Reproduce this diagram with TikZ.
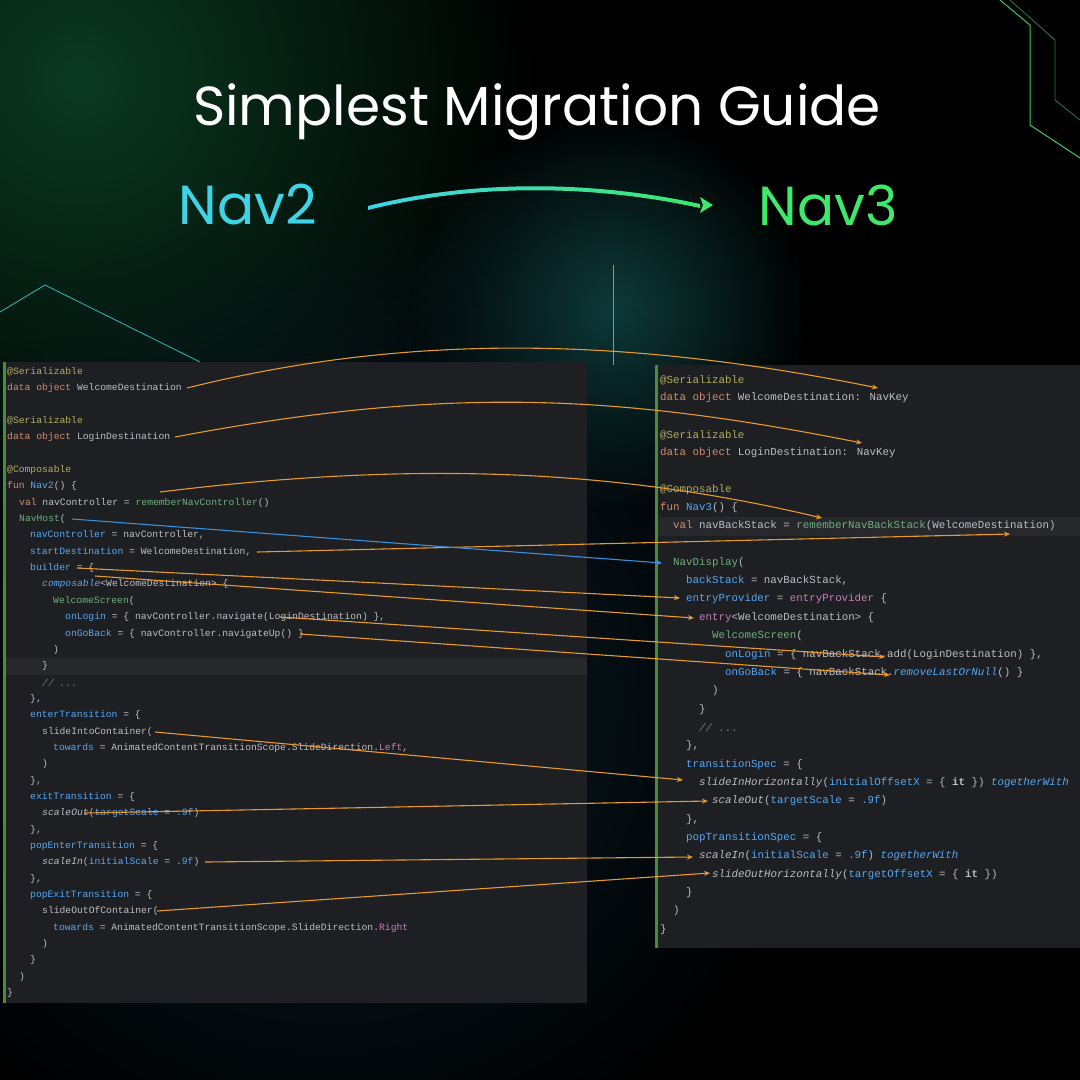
\documentclass[tikz,border=0pt]{standalone}
\usepackage{fontspec}
\setmainfont{Poppins}
\newfontfamily\mono{Liberation Mono}
\usetikzlibrary{fadings,arrows.meta}
\tikzfading[name=myglow, inner color=transparent!0, outer color=transparent!100]
\definecolor{bgpanel}{HTML}{1E1F22}
\definecolor{rowhl}{HTML}{26282C}
\definecolor{gbar}{HTML}{4E8A3E}
\definecolor{glowA}{HTML}{0B3A22}
\definecolor{glowB}{HTML}{0E3B3A}
\definecolor{glowC}{HTML}{0A1F2A}
\definecolor{decoG}{HTML}{3CCB5A}
\definecolor{decoG2}{HTML}{2A7A4A}
\definecolor{decoC}{HTML}{2FB7C6}
\definecolor{cid}{HTML}{BCBEC4}
\definecolor{ckw}{HTML}{CF8E6D}
\definecolor{can}{HTML}{B3AE60}
\definecolor{cfn}{HTML}{6FAF7E}
\definecolor{cpa}{HTML}{56A8F5}
\definecolor{cpu}{HTML}{C77DBB}
\definecolor{ccm}{HTML}{7A7E85}
\definecolor{carr}{HTML}{E89A2C}
\definecolor{cblue}{HTML}{3A8FD8}
\definecolor{ncyan}{HTML}{3FD3E6}
\definecolor{ngreen}{HTML}{3DE86A}
\newcommand\kw[1]{\textcolor{ckw}{#1}}
\newcommand\an[1]{\textcolor{can}{#1}}
\newcommand\fnn[1]{\textcolor{cfn}{#1}}
\newcommand\pa[1]{\textcolor{cpa}{#1}}
\newcommand\pu[1]{\textcolor{cpu}{#1}}
\newcommand\itp[1]{\textcolor{cpa}{\itshape #1}}
\newcommand\cm[1]{\textcolor{ccm}{\itshape #1}}
\begin{document}
\begin{tikzpicture}[x=1pt,y=-1pt,
  cl/.style={anchor=west,inner sep=0pt,text=cid,font=\mono\fontsize{9.7}{10}\selectfont},
  cr/.style={anchor=west,inner sep=0pt,text=cid,font=\mono\fontsize{10.8}{11}\selectfont},
  oa/.style={draw=carr,line width=1.1pt,-{Stealth[length=6pt,width=5pt]}},
  ba/.style={draw=cblue,line width=1.1pt,-{Stealth[length=6pt,width=5pt]}}]
\useasboundingbox (0,0) rectangle (1080,1080);
\fill[black] (0,0) rectangle (1080,1080);
\fill[glowA,path fading=myglow] (80,80) circle (460);
\fill[glowB,path fading=myglow] (610,310) circle (200);
\fill[glowC,path fading=myglow] (330,700) circle (500);
% decorations
\draw[decoG,line width=1pt] (1000,0) -- (1030,25) -- (1030,125) -- (1080,158);
\draw[decoG2,line width=0.8pt] (1010,0) -- (1055,40) -- (1055,100) -- (1080,120);
\draw[decoC,line width=0.8pt] (0,312) -- (45,285) -- (200,362);
\draw[decoC,line width=0.8pt] (613,265) -- (613,365);
% title
\node (title) [text=white,font=\fontsize{55}{60}\selectfont] at (537,112) {Simplest Migration Guide};
\node (nav2) [text=ncyan,font=\fontsize{55}{60}\selectfont] at (248,205) {Nav2};
\node (nav3) [text=ngreen,font=\fontsize{55}{60}\selectfont] at (828,205) {Nav3};
\shade[left color=ncyan,right color=ngreen] (368,206) .. controls (480,178) and (600,182) .. (700,204) -- (700,208) .. controls (600,186) and (480,182) .. (368,210) -- cycle;
\coordinate (ah) at (713,205);
\fill[ngreen] (ah) -- (700,197) -- (703,205) -- (700,213) -- cycle;
% panels
\fill[bgpanel] (3,362) rectangle (587,1003);
\fill[rowhl] (3,658) rectangle (587,675);
\fill[gbar] (3,362) rectangle (6,1003);
\fill[bgpanel] (655,365) rectangle (1080,948);
\fill[rowhl] (655,517) rectangle (1080,536);
\fill[gbar] (655,365) rectangle (658,948);
% left code
\node[cl] (l1) at (7,372) {\an{@Serializable}};
\node[cl] (l2) at (7,388) {\kw{data object} WelcomeDestination};
\node[cl] (l4) at (7,421) {\an{@Serializable}};
\node[cl] (l5) at (7,437) {\kw{data object} LoginDestination};
\node[cl] (l7) at (7,470) {\an{@Composable}};
\node[cl] (l8) at (7,486) {\kw{fun} \pa{Nav2}() \{};
\node[cl] (l9) at (19,503) {\kw{val} navController = \fnn{rememberNavController}()};
\node[cl] (l10) at (19,519) {\fnn{NavHost}(};
\node[cl] (l11) at (30,535) {\pa{navController} = navController,};
\node[cl] (l12) at (30,552) {\pa{startDestination} = WelcomeDestination,};
\node[cl] (l13) at (30,568) {\pa{builder} = \{};
\node[cl] (l14) at (42,584) {\itp{composable}<WelcomeDestination> \{};
\node[cl] (l15) at (53,601) {\fnn{WelcomeScreen}(};
\node[cl] (l16) at (65,617) {\pa{onLogin} = \{ navController.navigate(LoginDestination) \},};
\node[cl] (l17) at (65,634) {\pa{onGoBack} = \{ navController.navigateUp() \}};
\node[cl] (l18) at (53,650) {)};
\node[cl] (l19) at (42,666) {\}};
\node[cl] (l20) at (42,683) {\cm{// ...}};
\node[cl] (l21) at (30,699) {\},};
\node[cl] (l22) at (30,715) {\pa{enterTransition} = \{};
\node[cl] (l23) at (42,732) {slideIntoContainer(};
\node[cl] (l24) at (53,748) {\pa{towards} = AnimatedContentTransitionScope.SlideDirection.\pu{Left},};
\node[cl] (l25) at (42,764) {)};
\node[cl] (l26) at (30,781) {\},};
\node[cl] (l27) at (30,797) {\pa{exitTransition} = \{};
\node[cl] (l28) at (42,813) {\textit{scaleOut}(\pa{targetScale} = \pa{.9f})};
\node[cl] (l29) at (30,830) {\},};
\node[cl] (l30) at (30,846) {\pa{popEnterTransition} = \{};
\node[cl] (l31) at (42,862) {\textit{scaleIn}(\pa{initialScale} = \pa{.9f})};
\node[cl] (l32) at (30,879) {\},};
\node[cl] (l33) at (30,895) {\pa{popExitTransition} = \{};
\node[cl] (l34) at (42,911) {slideOutOfContainer(};
\node[cl] (l35) at (53,928) {\pa{towards} = AnimatedContentTransitionScope.SlideDirection.\pu{Right}};
\node[cl] (l36) at (42,944) {)};
\node[cl] (l37) at (30,960) {\}};
\node[cl] (l38) at (19,977) {)};
\node[cl] (l39) at (7,993) {\}};
% right code
\node[cr] (r1) at (660,380) {\an{@Serializable}};
\node[cr] (r2) at (660,398) {\kw{data object} WelcomeDestination: NavKey};
\node[cr] (r4) at (660,435) {\an{@Serializable}};
\node[cr] (r5) at (660,453) {\kw{data object} LoginDestination: NavKey};
\node[cr] (r7) at (660,490) {\an{@Composable}};
\node[cr] (r8) at (660,508) {\kw{fun} \pa{Nav3}() \{};
\node[cr] (r9) at (673,526) {\kw{val} navBackStack = \fnn{rememberNavBackStack}(WelcomeDestination)};
\node[cr] (r11) at (673,563) {\fnn{NavDisplay}(};
\node[cr] (r12) at (686,581) {\pa{backStack} = navBackStack,};
\node[cr] (r13) at (686,599) {\pa{entryProvider} = \pu{entryProvider} \{};
\node[cr] (r14) at (699,618) {\pu{entry}<WelcomeDestination> \{};
\node[cr] (r15) at (712,636) {\fnn{WelcomeScreen}(};
\node[cr] (r16) at (725,655) {\pa{onLogin} = \{ navBackStack.add(LoginDestination) \},};
\node[cr] (r17) at (725,673) {\pa{onGoBack} = \{ navBackStack.\itp{removeLastOrNull}() \}};
\node[cr] (r18) at (712,691) {)};
\node[cr] (r19) at (699,710) {\}};
\node[cr] (r20) at (699,728) {\cm{// ...}};
\node[cr] (r21) at (686,746) {\},};
\node[cr] (r22) at (686,765) {\pa{transitionSpec} = \{};
\node[cr] (r23) at (699,783) {\textit{slideInHorizontally}(\pa{initialOffsetX} = \{ \textbf{it} \}) \itp{togetherWith}};
\node[cr] (r24) at (712,801) {\textit{scaleOut}(\pa{targetScale} = \pa{.9f})};
\node[cr] (r25) at (686,820) {\},};
\node[cr] (r26) at (686,838) {\pa{popTransitionSpec} = \{};
\node[cr] (r27) at (699,856) {\textit{scaleIn}(\pa{initialScale} = \pa{.9f}) \itp{togetherWith}};
\node[cr] (r28) at (712,875) {\textit{slideOutHorizontally}(\pa{targetOffsetX} = \{ \textbf{it} \})};
\node[cr] (r29) at (686,893) {\}};
\node[cr] (r30) at (673,911) {)};
\node[cr] (r31) at (660,930) {\}};
% connector anchors
\coordinate (a1) at (187,388); \coordinate (b1) at (878,388);
\coordinate (a2) at (175,437); \coordinate (b2) at (862,443);
\coordinate (a3) at (160,492); \coordinate (b3) at (822,518);
\coordinate (a4) at (257,552); \coordinate (b4) at (1010,534);
\coordinate (a5) at (72,519);  \coordinate (b5) at (662,563);
\coordinate (a6) at (77,568);  \coordinate (b6) at (680,598);
\coordinate (a7) at (95,576);  \coordinate (b7) at (694,618);
\coordinate (a8) at (280,617); \coordinate (b8) at (885,657);
\coordinate (a9) at (300,634); \coordinate (b9) at (890,675);
\coordinate (a10) at (155,732); \coordinate (b10) at (683,780);
\coordinate (a11) at (85,813); \coordinate (b11) at (708,801);
\coordinate (a12) at (205,862); \coordinate (b12) at (693,857);
\coordinate (a13) at (157,911); \coordinate (b13) at (710,873);
\draw[oa] (a1) .. controls (420,330) and (640,340) .. (b1);
\draw[oa] (a2) .. controls (450,385) and (620,395) .. (b2);
\draw[oa] (a3) .. controls (420,460) and (620,470) .. (b3);
\draw[oa] (a4) -- (b4);
\draw[ba] (a5) -- (b5);
\draw[oa] (a6) -- (b6);
\draw[oa] (a7) -- (b7);
\draw[oa] (a8) -- (b8);
\draw[oa] (a9) -- (b9);
\draw[oa] (a10) -- (b10);
\draw[oa] (a11) -- (b11);
\draw[oa] (a12) -- (b12);
\draw[oa] (a13) -- (b13);
\end{tikzpicture}
\end{document}
